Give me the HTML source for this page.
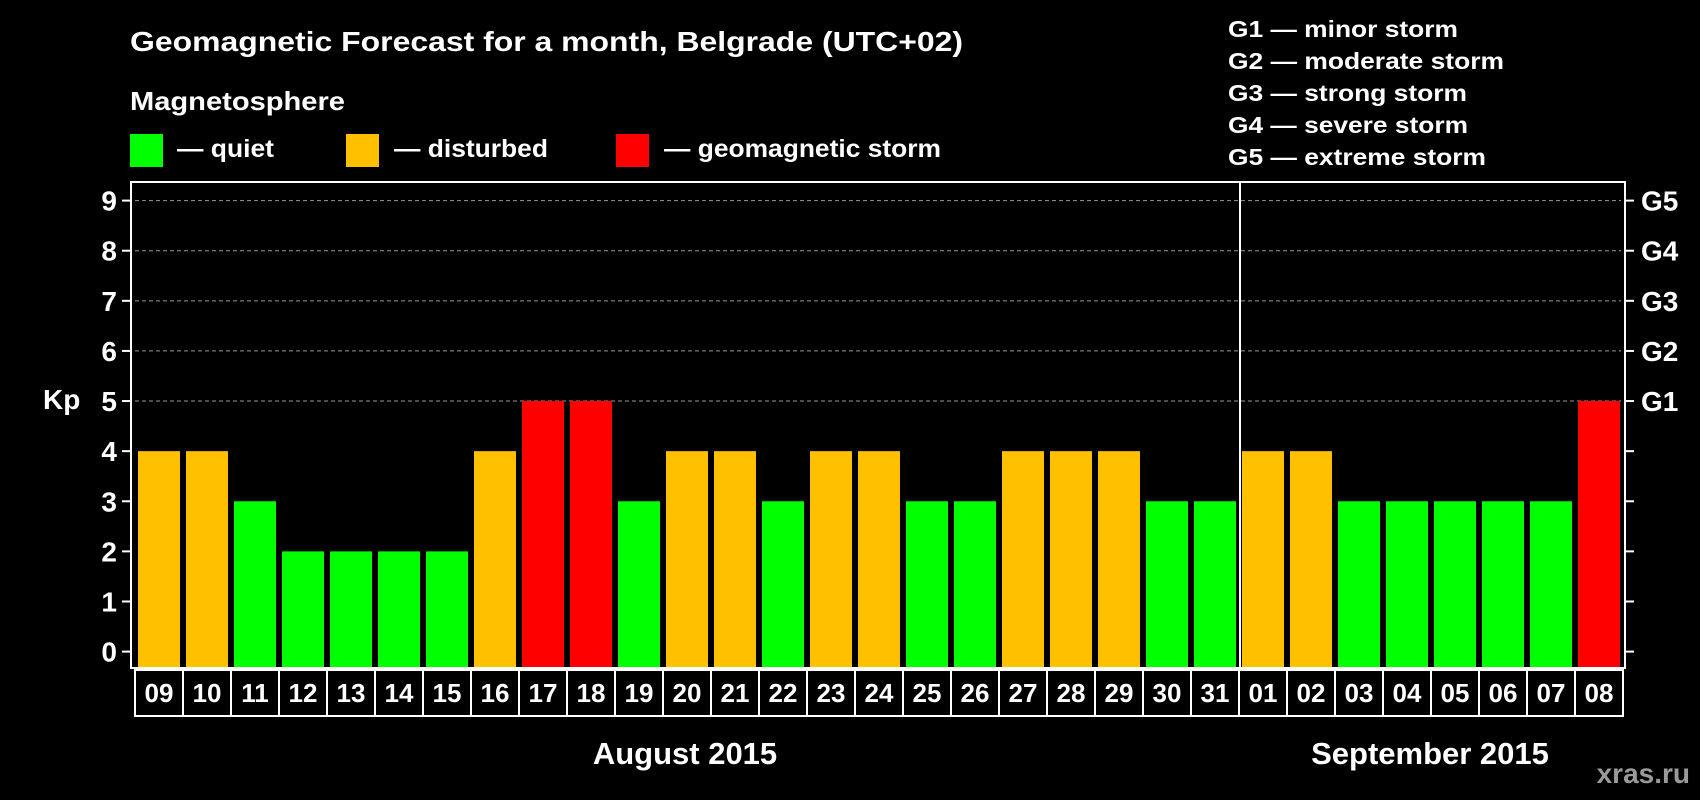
<!DOCTYPE html>
<html><head><meta charset="utf-8"><style>
html,body{margin:0;padding:0;background:#000;}
svg{display:block;font-family:"Liberation Sans",Arial,sans-serif;font-weight:bold;}
</style></head><body>
<svg id="chart" width="1700" height="800" viewBox="0 0 1700 800" xmlns="http://www.w3.org/2000/svg">
<rect width="1700" height="800" fill="#000"/>
<text x="130" y="51" fill="#fff" font-size="28" textLength="833" lengthAdjust="spacingAndGlyphs">Geomagnetic Forecast for a month, Belgrade (UTC+02)</text>
<text x="130" y="110" fill="#fff" font-size="26" textLength="215" lengthAdjust="spacingAndGlyphs">Magnetosphere</text>
<rect x="130" y="134" width="33" height="33" fill="#00ff00"/>
<text x="177" y="157" fill="#fff" font-size="25" textLength="97" lengthAdjust="spacingAndGlyphs">— quiet</text>
<rect x="346" y="134" width="33" height="33" fill="#ffc000"/>
<text x="394" y="157" fill="#fff" font-size="25" textLength="154" lengthAdjust="spacingAndGlyphs">— disturbed</text>
<rect x="616" y="134" width="33" height="33" fill="#ff0000"/>
<text x="664" y="157" fill="#fff" font-size="25" textLength="277" lengthAdjust="spacingAndGlyphs">— geomagnetic storm</text>
<g fill="#fff" font-size="23">
<text x="1228" y="37" textLength="230" lengthAdjust="spacingAndGlyphs">G1 — minor storm</text>
<text x="1228" y="69" textLength="276" lengthAdjust="spacingAndGlyphs">G2 — moderate storm</text>
<text x="1228" y="101" textLength="239" lengthAdjust="spacingAndGlyphs">G3 — strong storm</text>
<text x="1228" y="133" textLength="240" lengthAdjust="spacingAndGlyphs">G4 — severe storm</text>
<text x="1228" y="165" textLength="258" lengthAdjust="spacingAndGlyphs">G5 — extreme storm</text>
</g>
<text x="43" y="409" fill="#fff" font-size="28">Kp</text>
<g id="grid"></g>
<g id="bars"></g>
<g id="axes"></g>
<text x="685" y="764" fill="#fff" font-size="31" text-anchor="middle">August 2015</text>
<text x="1430" y="764" fill="#fff" font-size="31" text-anchor="middle">September 2015</text>
<text x="1690" y="783" fill="#9a9a9a" font-size="28" text-anchor="end">xras.ru</text>
</svg>
<script>
const days = ["09","10","11","12","13","14","15","16","17","18","19","20","21","22","23","24","25","26","27","28","29","30","31","01","02","03","04","05","06","07","08"];
const kp = [4,4,3,2,2,2,2,4,5,5,3,4,4,3,4,4,3,3,4,4,4,3,3,4,4,3,3,3,3,3,5];
const yTicks = [0,1,2,3,4,5,6,7,8,9];
const gLabels = ["G1","G2","G3","G4","G5"];
const monthSplitIndex = 23;

const NS = "http://www.w3.org/2000/svg";
const plotL = 131, plotR = 1625, plotT = 182, plotB = 668;
const y0 = 651.6, unit = (651.6 - 200.6) / 9;
const x0 = 135, step = 48;
function yScale(v){ return y0 - v * unit; }
function xScale(i){ return x0 + i * step; }
function colorFor(v){ return v >= 5 ? "#ff0000" : (v >= 4 ? "#ffc000" : "#00ff00"); }
function mk(tag, attrs, parent){ const e = document.createElementNS(NS, tag); for (const k in attrs) e.setAttribute(k, attrs[k]); parent.appendChild(e); return e; }

const grid = document.getElementById("grid");
const bars = document.getElementById("bars");
const axes = document.getElementById("axes");

yTicks.forEach(v => {
  const y = yScale(v);
  if (v >= 5) {
    const gl = mk("line", {x1: plotL + 4, x2: plotR - 4, y1: y, y2: y, stroke: "#999", "stroke-width": 1, "stroke-dasharray": "4,3"}, grid);
    
    
  }
  const tl = mk("line", {x1: 122, x2: plotL, y1: y, y2: y, stroke: "#fff", "stroke-width": 2}, axes);
  
  
  const tr = mk("line", {x1: plotR, x2: plotR + 9, y1: y, y2: y, stroke: "#fff", "stroke-width": 2}, axes);
  
  
  const t = mk("text", {x: 117, y: y + 10, fill: "#fff", "font-size": 28, "text-anchor": "end"}, axes);
  t.textContent = v;
  
  
});
gLabels.forEach((g, i) => {
  const t = mk("text", {x: 1641, y: yScale(5 + i) + 10, fill: "#fff", "font-size": 28}, axes);
  t.textContent = g;
  
  
});

kp.forEach((v, i) => {
  const r = mk("rect", {x: xScale(i) + 3, y: yScale(v), width: 42, height: plotB - yScale(v), fill: colorFor(v)}, bars);
  
  
  const c = mk("rect", {x: xScale(i), y: 670, width: step, height: 46, fill: "none", stroke: "#fff", "stroke-width": 2}, axes);
  
  
  const t = mk("text", {x: xScale(i) + step / 2, y: 702, fill: "#fff", "font-size": 26, "text-anchor": "middle"}, axes);
  t.textContent = days[i];
  
  
});

const frame = mk("rect", {x: plotL, y: plotT, width: plotR - plotL, height: plotB - plotT, fill: "none", stroke: "#fff", "stroke-width": 2}, axes);


const dx = xScale(monthSplitIndex);
const div = mk("line", {x1: dx + 1, x2: dx + 1, y1: plotT, y2: plotB, stroke: "#fff", "stroke-width": 2}, axes);


</script>
</body></html>
